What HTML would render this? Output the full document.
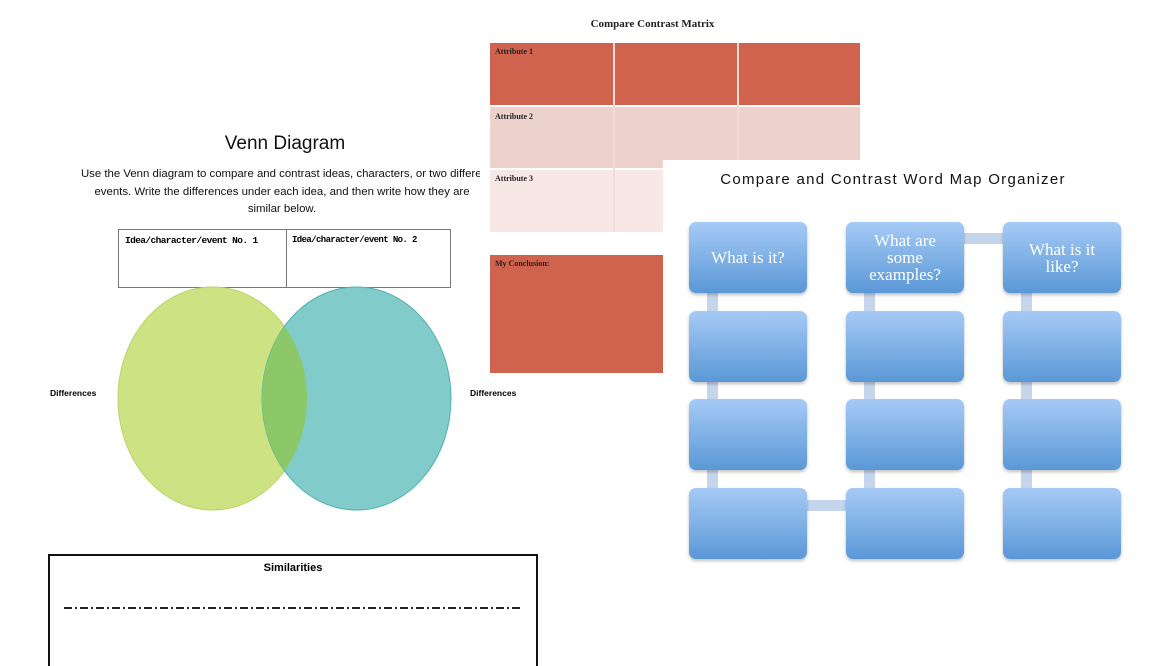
<!DOCTYPE html>
<html><head><meta charset="utf-8"><style>
html,body{margin:0;width:1172px;height:666px;background:#fff;position:relative;overflow:hidden;font-family:"Liberation Sans",sans-serif}
.a{position:absolute}
.serif{font-family:"Liberation Serif",serif;font-weight:bold;color:#222}
.box{position:absolute;width:118px;height:71px;border-radius:7px;background:linear-gradient(#a6caf6,#5a98d6);box-shadow:0 2px 3px rgba(0,0,0,.25);color:#fff;font-family:"Liberation Serif",serif;font-size:17px;line-height:17px;display:flex;align-items:center;justify-content:center;text-align:center}
.vc{position:absolute;width:11px;background:#c5d5ec}
.hc{position:absolute;height:11px;background:#c5d5ec}
.ln{position:absolute;left:0;width:570px;text-align:center;font-size:11.4px;color:#111;white-space:nowrap}
</style></head><body>
<!-- Venn -->
<div class="a" style="left:0;top:133px;width:570px;text-align:center;font-size:19px;color:#111">Venn Diagram</div>
<div class="a" style="left:0;top:0;width:480px;height:230px;overflow:hidden">
<div class="ln" style="top:168px;left:1px">Use the Venn diagram to compare and contrast ideas, characters, or two different</div>
<div class="ln" style="top:186px;left:-3px">events. Write the differences under each idea, and then write how they are</div>
<div class="ln" style="top:203px;left:-3px">similar below.</div>
</div>
<div class="a" style="left:118px;top:229px;width:331px;height:57px;border:1px solid #777"></div>
<div class="a" style="left:286px;top:229px;width:1px;height:58px;background:#777"></div>
<div class="a" style="left:125px;top:235px;font-size:9.5px;font-weight:bold;font-family:'Liberation Mono',monospace;letter-spacing:-0.6px">Idea/character/event No. 1</div>
<div class="a" style="left:292px;top:235px;font-size:9px;font-weight:bold;font-family:'Liberation Mono',monospace;letter-spacing:-0.6px">Idea/character/event No. 2</div>
<svg class="a" style="left:0;top:0" width="560" height="540">
<defs><clipPath id="c"><ellipse cx="212.5" cy="398.5" rx="94.5" ry="111.5"/></clipPath></defs>
<ellipse cx="212.5" cy="398.5" rx="94.5" ry="111.5" fill="#cde383" stroke="#b9d463"/>
<ellipse cx="356.5" cy="398.5" rx="94.5" ry="111.5" fill="#82cbcb" stroke="#4fb0b0"/>
<ellipse cx="356.5" cy="398.5" rx="94.5" ry="111.5" fill="#8cc867" clip-path="url(#c)"/>
</svg>
<div class="a" style="left:50px;top:388px;font-size:8.5px;font-weight:bold">Differences</div>
<div class="a" style="left:470px;top:388px;font-size:8.5px;font-weight:bold">Differences</div>
<div class="a" style="left:48px;top:554px;width:486px;height:140px;border:2px solid #111"></div>
<div class="a" style="left:48px;top:562px;width:490px;text-align:center;font-size:11px;font-weight:bold">Similarities</div>
<div class="a" style="left:64px;top:607px;width:458px;height:2px;background:repeating-linear-gradient(90deg,#222 0 8px,transparent 8px 11px,#222 11px 13px,transparent 13px 16px)"></div>
<!-- Matrix -->
<div class="a" style="left:480px;top:0;width:183px;height:232px;background:#fff"></div>
<div class="a serif" style="left:480px;top:18px;width:345px;text-align:center;font-size:11px">Compare Contrast Matrix</div>
<div class="a" style="left:490px;top:43px;width:370px;height:62px;background:#d0634d"></div>
<div class="a" style="left:490px;top:107px;width:370px;height:61px;background:#edd1cd"></div>
<div class="a" style="left:490px;top:170px;width:370px;height:62px;background:#f7e8e6"></div>
<div class="a" style="left:613px;top:43px;width:2px;height:189px;background:#f3dcd8"></div>
<div class="a" style="left:737px;top:43px;width:2px;height:189px;background:#f3dcd8"></div>
<div class="a serif" style="left:495px;top:47px;font-size:8px">Attribute 1</div>
<div class="a serif" style="left:495px;top:112px;font-size:8px">Attribute 2</div>
<div class="a serif" style="left:495px;top:174px;font-size:8px">Attribute 3</div>
<div class="a" style="left:490px;top:255px;width:174px;height:118px;background:#d0634d"></div>
<div class="a serif" style="left:495px;top:259px;font-size:8px">My Conclusion:</div>
<!-- Word map -->
<div class="a" style="left:663px;top:160px;width:509px;height:506px;background:#fff"></div>
<div class="a" style="left:663px;top:171px;width:460px;text-align:center;font-size:15px;letter-spacing:1.3px;color:#111">Compare and Contrast Word Map Organizer</div>
<div class="vc" style="left:707px;top:290px;height:215px"></div>
<div class="vc" style="left:864px;top:290px;height:215px"></div>
<div class="vc" style="left:1021px;top:290px;height:215px"></div>
<div class="hc" style="left:805px;top:500px;width:45px"></div>
<div class="hc" style="left:962px;top:233px;width:45px"></div>
<div class="box" style="left:689px;top:222px">What is it?</div>
<div class="box" style="left:846px;top:222px">What are<br>some<br>examples?</div>
<div class="box" style="left:1003px;top:222px">What is it<br>like?</div>
<div class="box" style="left:689px;top:311px"></div><div class="box" style="left:846px;top:311px"></div><div class="box" style="left:1003px;top:311px"></div>
<div class="box" style="left:689px;top:399px"></div><div class="box" style="left:846px;top:399px"></div><div class="box" style="left:1003px;top:399px"></div>
<div class="box" style="left:689px;top:488px"></div><div class="box" style="left:846px;top:488px"></div><div class="box" style="left:1003px;top:488px"></div>
</body></html>
